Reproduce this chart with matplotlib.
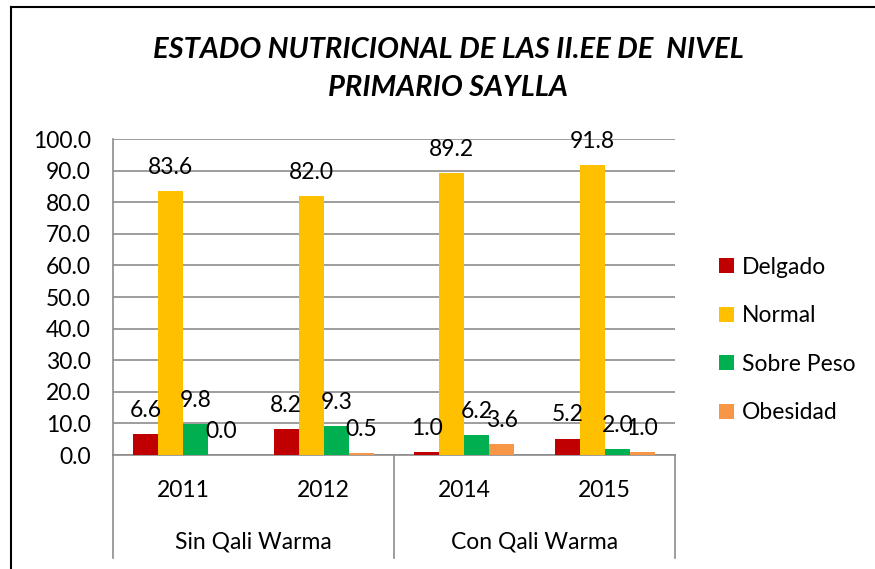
import matplotlib
matplotlib.use('Agg')
import matplotlib.pyplot as plt
import numpy as np
from matplotlib.lines import Line2D

years = ['2011', '2012', '2014', '2015']
groups = ['Sin Qali Warma', 'Con Qali Warma']
series = ['Delgado', 'Normal', 'Sobre Peso', 'Obesidad']
delgado = [6.6, 8.2, 1.0, 5.2]
normal = [83.6, 82.0, 89.2, 91.8]
sobre_peso = [9.8, 9.3, 6.2, 2.0]
obesidad = [0.0, 0.5, 3.6, 1.0]
colors = ['#C00000', '#FFC000', '#00B050', '#F79646']

plt.rcParams['font.family'] = ['Lato', 'DejaVu Sans']
fs = 16.5

fig = plt.figure(figsize=(8.75, 5.69), dpi=100)
ax = fig.add_axes([113 / 875, 1 - 455 / 569, 562 / 875, 316 / 569])

x = np.arange(len(years))
w = 0.178
values = [delgado, normal, sobre_peso, obesidad]
for i, (name, vals, c) in enumerate(zip(series, values, colors)):
    bars = ax.bar(x + (i - 1.5) * w, vals, w, color=c, label=name, zorder=3)
    for b, v in zip(bars, vals):
        ax.annotate('%.1f' % v, (b.get_x() + b.get_width() / 2, v),
                    xytext=(0, 17), textcoords='offset points',
                    ha='center', va='center', fontsize=fs, zorder=4)

ax.set_xlim(-0.5, 3.5)
ax.set_ylim(0, 100)
ax.set_yticks(np.arange(0, 101, 10))
ax.set_yticklabels(['%.1f' % t for t in np.arange(0, 101, 10)], fontsize=fs)
ax.yaxis.grid(True, color='#8C8C8C', linewidth=1.2, zorder=0)
ax.tick_params(axis='y', length=0, pad=16)
ax.set_xticks([])
for s in ['top', 'right']:
    ax.spines[s].set_visible(False)
for s in ['left', 'bottom']:
    ax.spines[s].set_color('#8C8C8C')
    ax.spines[s].set_linewidth(1.2)

# two-level category axis
trans = ax.get_xaxis_transform()
for i, yr in enumerate(years):
    ax.text(x[i], -0.111, yr, transform=trans, ha='center', va='center', fontsize=fs)
for j, g in enumerate(groups):
    ax.text(2 * j + 0.5, -0.275, g, transform=trans, ha='center', va='center', fontsize=fs)
for xv in [-0.5, 1.5, 3.5]:
    ax.add_line(Line2D([xv, xv], [0, -0.326], transform=trans, color='#8C8C8C',
                       linewidth=1.2, clip_on=False))

leg = fig.legend(loc='center left', bbox_to_anchor=(698 / 875, 1 - 340 / 569),
                 frameon=False, fontsize=fs, handlelength=0.65, handleheight=0.65,
                 labelspacing=1.2, handletextpad=0.35)

fig.text(0.512, 1 - 50 / 569, 'ESTADO NUTRICIONAL DE LAS II.EE DE  NIVEL',
         ha='center', va='center', fontsize=21, fontweight='bold', style='italic')
fig.text(0.512, 1 - 88 / 569, 'PRIMARIO SAYLLA',
         ha='center', va='center', fontsize=21, fontweight='bold', style='italic')

# outer chart border (left and top visible)
fig.add_artist(Line2D([11 / 875, 11 / 875], [0, 1 - 7 / 569], color='black', linewidth=1.5))
fig.add_artist(Line2D([11 / 875, 1], [1 - 7 / 569, 1 - 7 / 569], color='black', linewidth=1.5))

plt.savefig('out.png', dpi=100)
